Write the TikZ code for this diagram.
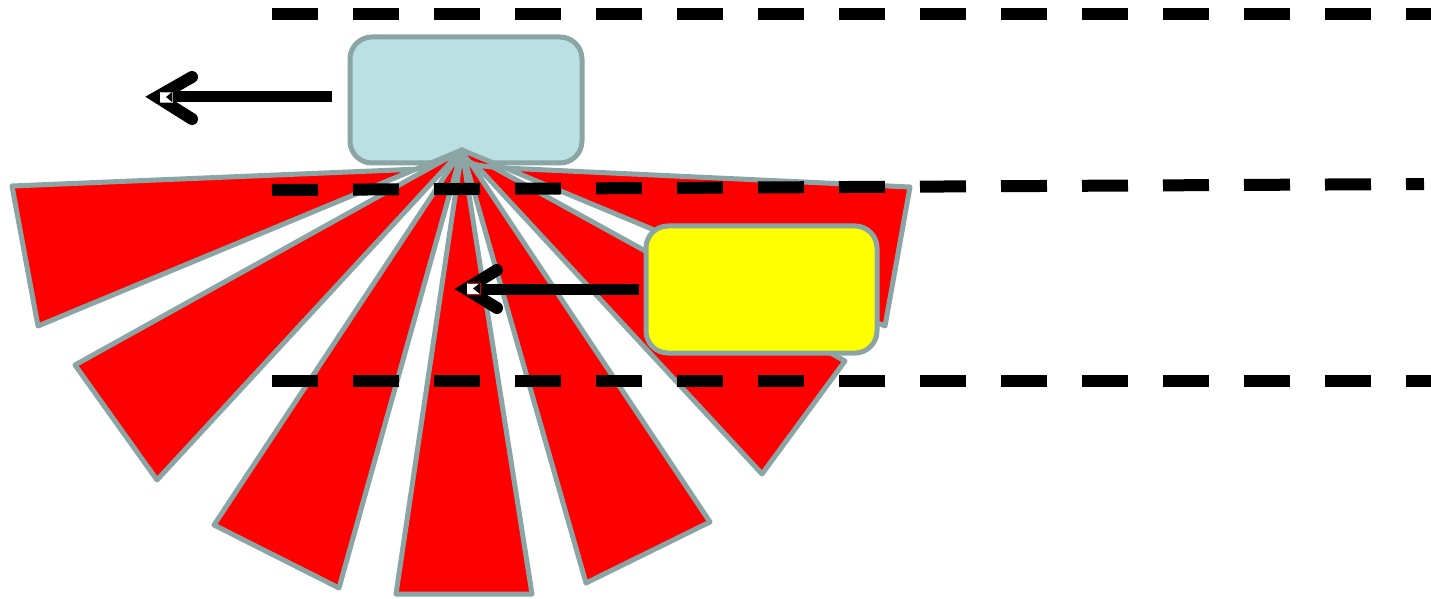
\documentclass[tikz,border=0pt]{standalone}
\definecolor{edgegray}{RGB}{139,165,165}
\definecolor{carblue}{RGB}{186,224,227}
\definecolor{caryellow}{RGB}{255,255,0}
\begin{document}
\begin{tikzpicture}[x=0.5pt,y=-0.5pt,
  car/.style={draw=edgegray, line width=2.5pt, rounded corners=11pt, inner sep=0pt, outer sep=0pt},
  beam/.style={fill=red, draw=edgegray, line width=2.5pt, line join=round},
  lane/.style={line width=6pt, dash pattern=on 23pt off 17.5pt},
  shaft/.style={line width=5.5pt},
  barb/.style={line width=6pt, line cap=round, line join=miter, miter limit=10},
  marker/.style={fill=white, draw=#1, line width=0.4pt}]
\useasboundingbox (0,0) rectangle (1431,599);
% blue car
\node[car, fill=carblue, minimum width=116pt, minimum height=63pt] (bluecar) at (466,100) {};
% beams
\coordinate (apex) at (462,150);
\draw[beam] (apex) .. controls (455,165) .. (420,169) -- (12,186) -- (38,326) -- cycle;
\foreach \ax/\ay/\bx/\by in {75/365/157/480, 214/525/339/588, 396/594/532/594, 586/583/710/522, 762/474/845/361}
  \draw[beam] (apex) -- (\ax,\ay) -- (\bx,\by) -- cycle;
\draw[beam] (apex) .. controls (469,165) .. (504,168) -- (910,187) -- (885,326) -- cycle;
% yellow car
\node[car, fill=caryellow, minimum width=115.5pt, minimum height=63.5pt] (yellowcar) at (761.5,289.5) {};
% lane lines
\coordinate (laneAa) at (272,14);  \coordinate (laneAb) at (1431,14);
\coordinate (laneBa) at (272,190); \coordinate (laneBb) at (1424,184);
\coordinate (laneCa) at (272,381); \coordinate (laneCb) at (1431,381);
\draw[lane] (laneAa) -- (laneAb);
\draw[lane] (laneBa) -- (laneBb);
\draw[lane] (laneCa) -- (laneCb);
% arrow of blue car
\coordinate (tipA) at (157,97);
\draw[shaft] ([xshift=-9pt,yshift=1.5pt]bluecar.west) -- (tipA);
\draw[barb] (192,77) -- (tipA) -- (192,119);
\draw[marker=gray!60] (160,92) rectangle (172,102);
\fill[white] (160,92) -- (167,97) -- (160,102) -- cycle;
\fill[black] (172,92) -- (166,97) -- (172,102) -- cycle;
% arrow of yellow car
\coordinate (tipB) at (466,289);
\draw[shaft] ([xshift=-3.5pt,yshift=0.25pt]yellowcar.west) -- (tipB);
\draw[barb] (497,270) -- (tipB) -- (497,308);
\draw[marker=red] (467,283) rectangle (480,294);
\fill[white] (467,283) -- (474,288.5) -- (467,294) -- cycle;
\fill[black] (480,283) -- (473,288.5) -- (480,294) -- cycle;
\end{tikzpicture}
\end{document}
